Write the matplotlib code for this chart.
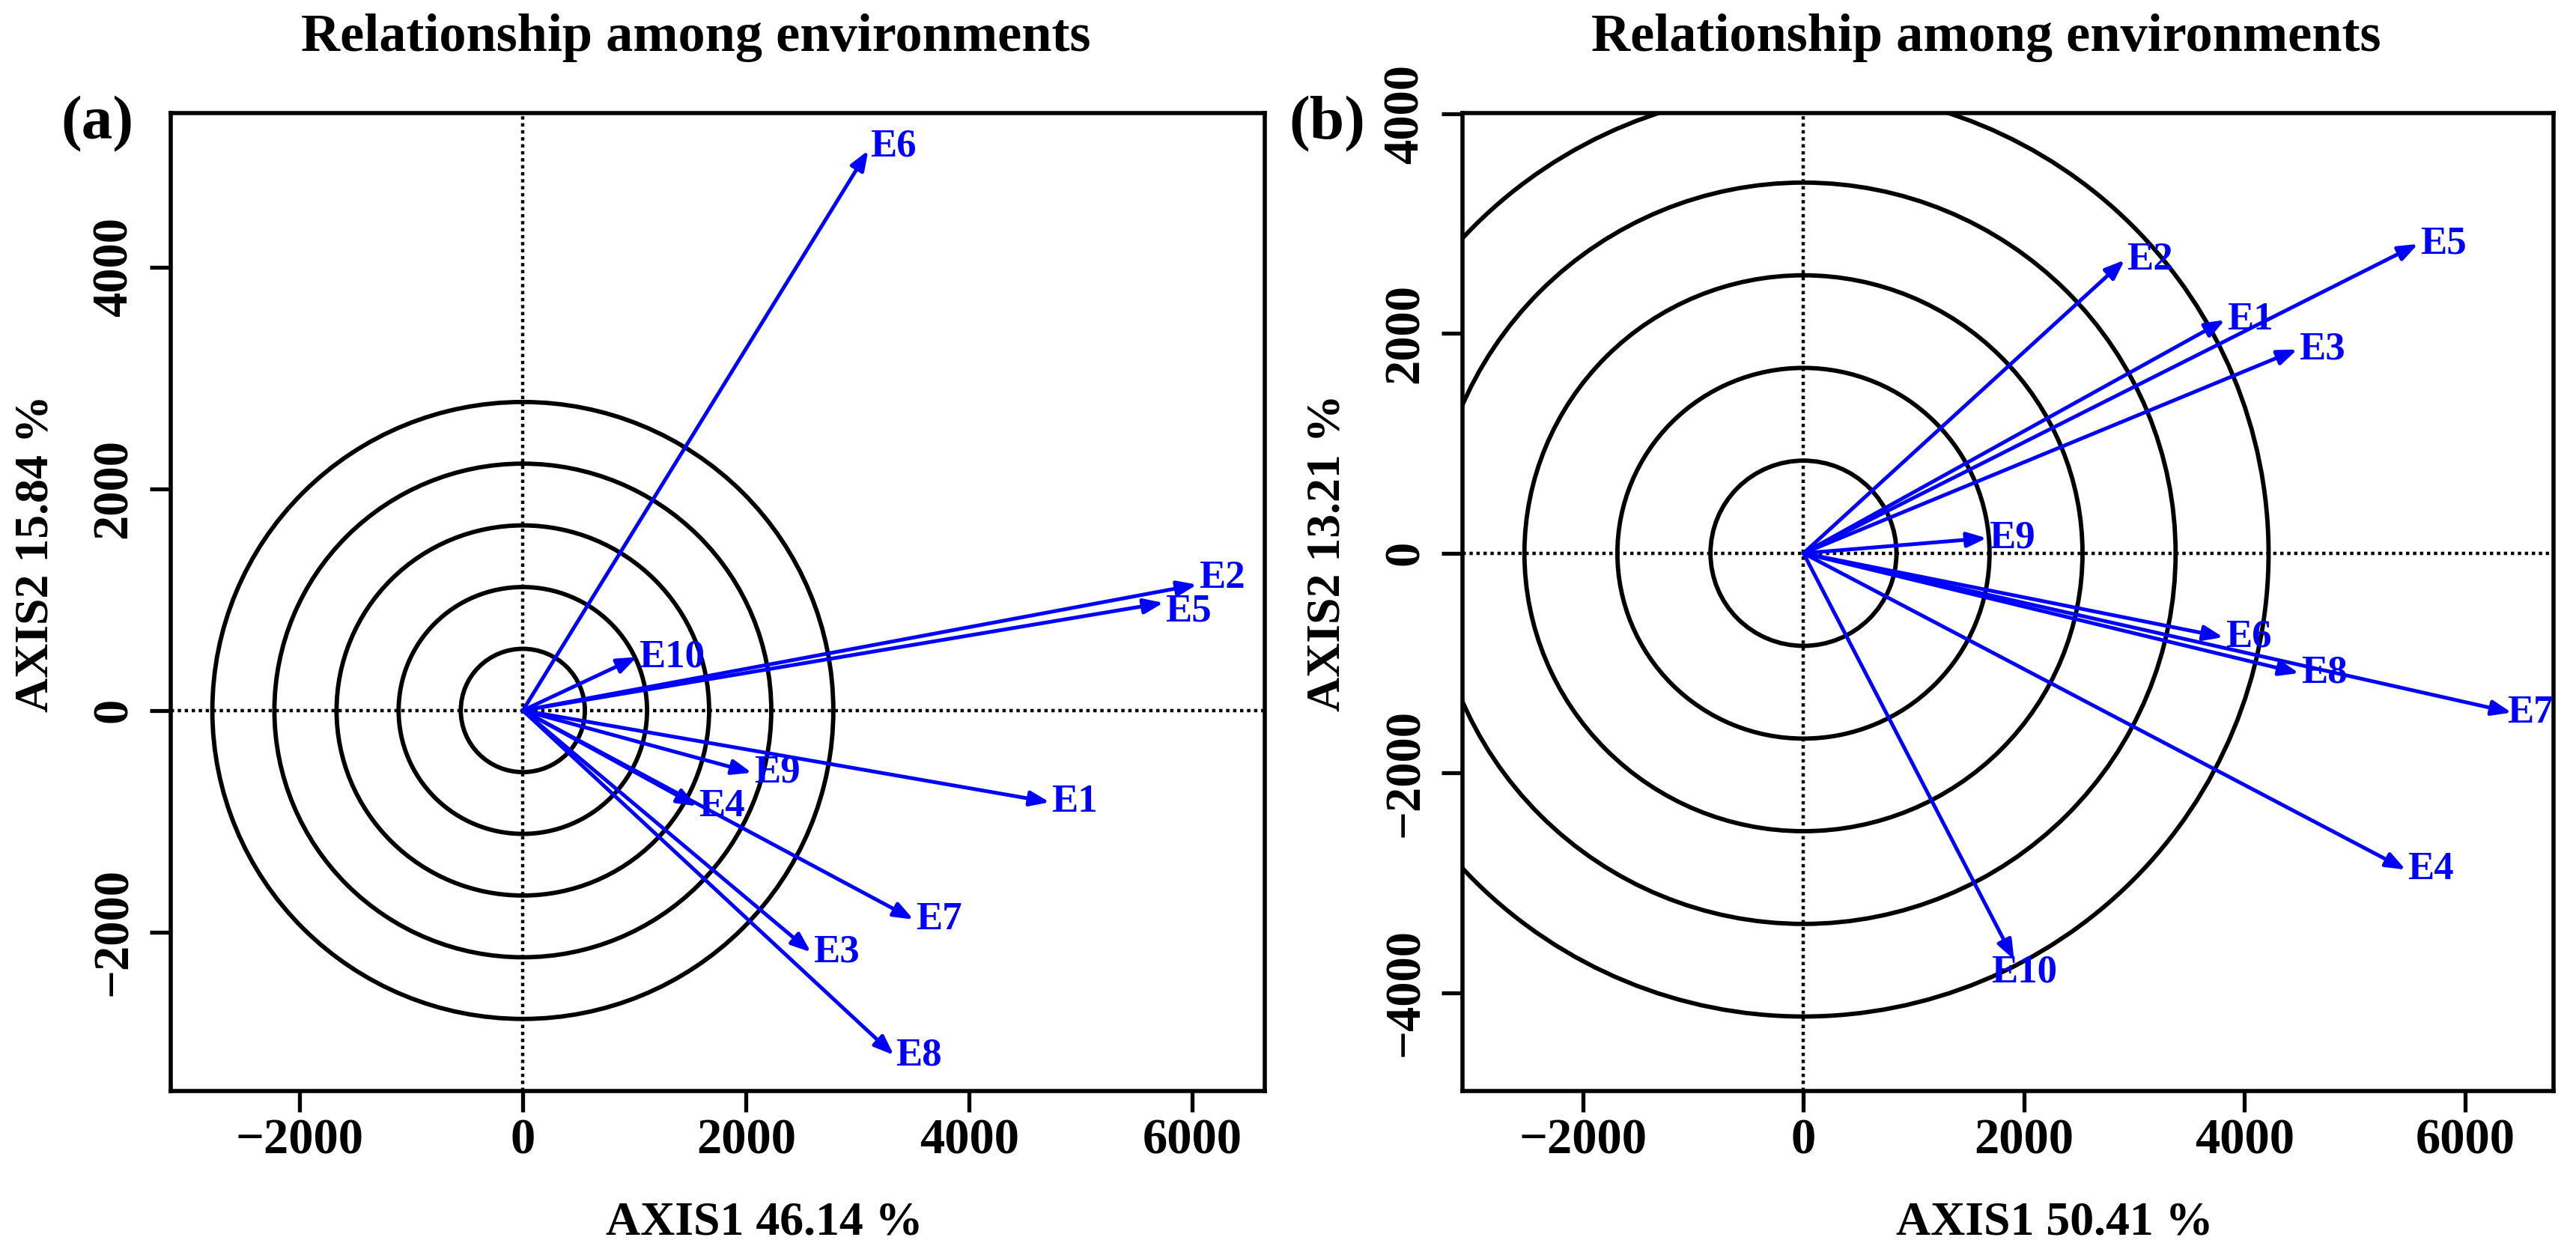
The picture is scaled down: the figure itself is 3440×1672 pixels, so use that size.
import matplotlib
matplotlib.use("Agg")
import matplotlib.pyplot as plt
from matplotlib.patches import Circle

plt.rcParams['font.family'] = ['Liberation Serif', 'DejaVu Serif']
plt.rcParams['font.weight'] = 'bold'

# environment vectors
env = ['E1', 'E2', 'E3', 'E4', 'E5', 'E6', 'E7', 'E8', 'E9', 'E10']

a_axis1 = [4720, 6040, 2581, 1559, 5740, 3095, 3500, 3324, 2051, 1022]
a_axis2 = [-827, 1135, -2180, -863, 971, 5050, -1885, -3108, -561, 482]
a_radii = [556, 1113, 1669, 2226, 2782]

b_axis1 = [3821, 2912, 4477, 5460, 5572, 3806, 6420, 4492, 1661, 1910]
b_axis2 = [2124, 2669, 1855, -2880, 2815, -764, -1450, -1091, 138, -3700]
b_radii = [843, 1687, 2530, 3374, 4217]

a_xlabel = 'AXIS1 46.14 %'
a_ylabel = 'AXIS2 15.84 %'
b_xlabel = 'AXIS1 50.41 %'
b_ylabel = 'AXIS2 13.21 %'
title = 'Relationship among environments'

x_ticks = [-2000, 0, 2000, 4000, 6000]
a_yticks = [-2000, 0, 2000, 4000]
b_yticks = [-4000, -2000, 0, 2000, 4000]

# small label nudges (points) so the labels sit as in the original
a_nudge = {'E2': (0, 3), 'E5': (0, -4), 'E6': (0, 2)}
b_nudge = {'E10': (-12, -6), 'E7': (-3, 0)}


def draw_panel(ax, xs, ys, radii, xlabel, ylabel, yticks, xlim, ylim, nudge):
    '''
    draws one environment biplot: circles, dotted axes, blue vectors
    '''
    # concentric circles round the origin
    for r in radii:
        ax.add_patch(Circle((0, 0), r, fill=False, ec='black', lw=2.1, zorder=1))

    # dotted reference lines through the origin
    ax.axhline(0, color='black', lw=1.6, linestyle=(0, (1, 1.1)), zorder=1)
    ax.axvline(0, color='black', lw=1.6, linestyle=(0, (1, 1.1)), zorder=1)

    # vectors and their labels
    for name, x, y in zip(env, xs, ys):
        ax.annotate('', xy=(x, y), xytext=(0, 0),
                    arrowprops=dict(arrowstyle='-|>,head_length=0.65,head_width=0.25',
                                    color='blue', lw=1.8, shrinkA=0, shrinkB=0,
                                    mutation_scale=12),
                    zorder=3)
        dx, dy = nudge.get(name, (0, 0))
        ax.annotate(name, xy=(x, y), xytext=(dx + 1, dy), textcoords='offset points',
                    color='blue', ha='left', va='center',
                    fontsize=19, fontweight='bold', zorder=4, annotation_clip=False)

    ax.set_xlim(*xlim)
    ax.set_ylim(*ylim)
    ax.set_xticks(x_ticks)
    ax.set_yticks(yticks)
    ax.tick_params(axis='both', direction='out', length=10.2, width=1.9, labelsize=24)
    ax.tick_params(axis='x', pad=3)
    ax.tick_params(axis='y', pad=6)
    for lab in ax.get_yticklabels():
        lab.set_rotation(90)
        lab.set_va('center')
    for s in ax.spines.values():
        s.set_linewidth(2.0)

    ax.set_xlabel(xlabel, fontsize=23, fontweight='bold', labelpad=18, x=0.543)
    ax.set_ylabel(ylabel, fontsize=23, fontweight='bold', labelpad=16, y=0.55)
    ax.set_title(title, fontsize=26, fontweight='bold', pad=30, x=0.48)


fig = plt.figure(figsize=(17.205, 8.36), dpi=200)

ax1 = fig.add_axes([0.0663, 0.1286, 0.4245, 0.7811])
ax2 = fig.add_axes([0.5676, 0.1286, 0.4234, 0.7811])

draw_panel(ax1, a_axis1, a_axis2, a_radii, a_xlabel, a_ylabel, a_yticks,
           (-3154, 6647), (-3432, 5388), a_nudge)
draw_panel(ax2, b_axis1, b_axis2, b_radii, b_xlabel, b_ylabel, b_yticks,
           (-3091, 6801), (-4895, 4007), b_nudge)

# panel letters
fig.text(0.0378, 0.9007, '(a)', fontsize=30, fontweight='bold', ha='center', va='center')
fig.text(0.515, 0.9007, '(b)', fontsize=30, fontweight='bold', ha='center', va='center')

fig.savefig('out.png', dpi=200)
